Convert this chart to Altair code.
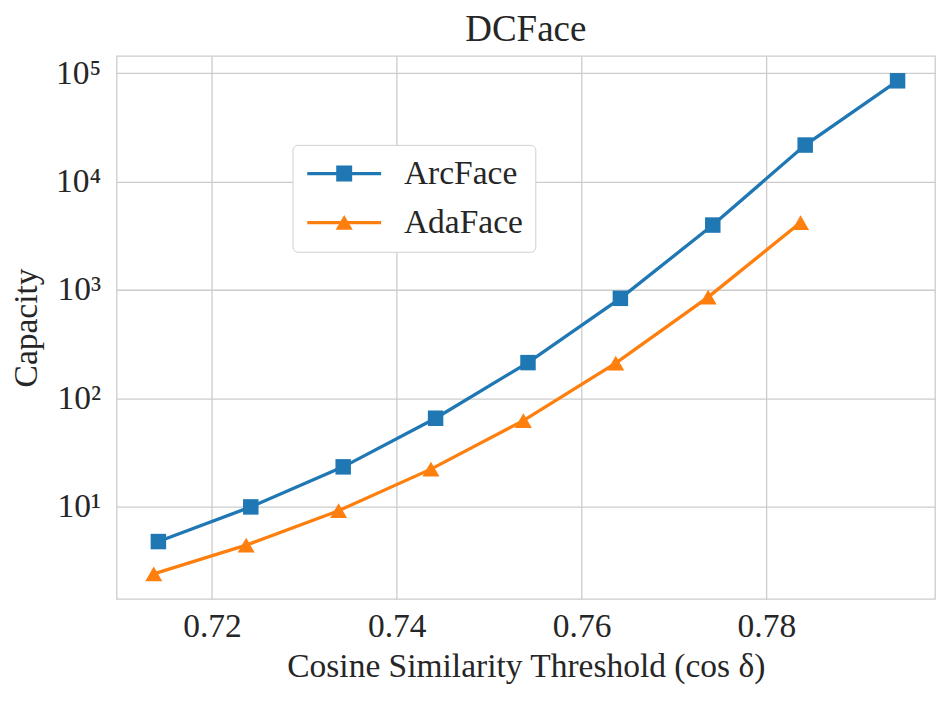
import altair as alt
import pandas as pd

arc_x = [0.7142, 0.7242, 0.7342, 0.7442, 0.7542, 0.7642, 0.7742, 0.7842, 0.7942]
arcface = [4.79, 10.0, 23.4, 65.7, 214.0, 838.0, 3970.0, 21700.0, 84900.0]
ada_x = [0.7137, 0.7237, 0.7337, 0.7437, 0.7537, 0.7637, 0.7737, 0.7837]
adaface = [2.41, 4.44, 9.23, 22.3, 62.5, 212.0, 860.0, 4190.0]
models = ["ArcFace", "AdaFace"]
colors = ["#1f77b4", "#ff7f0e"]
y_ticks = [10, 100, 1000, 10000, 100000]
x_ticks = [0.72, 0.74, 0.76, 0.78]

rows = []
for x, v in zip(arc_x, arcface):
    rows.append({"x": x, "y": v, "model": "ArcFace", "legend_model": "ArcFace"})
for x, v in zip(ada_x, adaface):
    rows.append({"x": x, "y": v, "model": "AdaFace", "legend_model": "AdaFace"})
df = pd.DataFrame(rows)

FONT = "Liberation Serif"
TXT = "#262626"

xs = alt.X("x:Q", scale=alt.Scale(domain=[0.70968, 0.79825], nice=False, zero=False),
           axis=alt.Axis(values=x_ticks, format=".2f", title="Cosine Similarity Threshold (cos δ)"))
ys = alt.Y("y:Q", scale=alt.Scale(type="log", domain=[1.415, 144000], nice=False),
           axis=alt.Axis(values=y_ticks, title="Capacity",
                         labelExpr="'10' + ['⁰','¹','²','³','⁴','⁵'][round(log(datum.value)/log(10))]"))
col = alt.Color("model:N", scale=alt.Scale(domain=models, range=colors), legend=None)

base = alt.Chart(df)
lines = base.mark_line(strokeWidth=3.3).encode(x=xs, y=ys, color=col, detail="model:N")
points = base.mark_point(filled=True, opacity=1).encode(
    x=xs, y=ys, color=col,
    shape=alt.Shape("model:N", scale=alt.Scale(domain=models, range=["square", "triangle-up"]), legend=None),
    size=alt.Size("model:N", scale=alt.Scale(domain=models, range=[240, 290]), legend=None),
)

# legend glyphs: line segment with marker (unit = 14 px)
sq_path = "M-2.64,-0.115H2.64V0.115H-2.64Z M-0.57,-0.57H0.57V0.57H-0.57Z"
tri_path = "M-2.64,-0.115H2.64V0.115H-2.64Z M-0.61,0.52L0,-0.54L0.61,0.52Z"

def leg():
    return alt.Legend(title=None, orient="none", legendX=176, legendY=89,
                      symbolOpacity=1, symbolSize=784, symbolStrokeWidth=0, symbolOffset=23,
                      labelFont=FONT, labelFontSize=33.5, labelColor=TXT,
                      labelOffset=43, rowPadding=14, padding=12,
                      strokeColor="#d0d0d0", fillColor="white", cornerRadius=5)

legend_layer = base.mark_point(filled=True, opacity=0).encode(
    x=xs, y=ys,
    color=alt.Color("legend_model:N", scale=alt.Scale(domain=models, range=colors), legend=leg()),
    shape=alt.Shape("legend_model:N", scale=alt.Scale(domain=models, range=[sq_path, tri_path]), legend=leg()),
)

chart = alt.layer(lines, points, legend_layer).resolve_scale(
    shape="independent", color="independent"
).properties(
    width=819, height=543.5,
    autosize=alt.AutoSizeParams(type="none"),
    padding={"left": 108.7, "top": 47.7, "right": 8, "bottom": 95},
    title=alt.TitleParams("DCFace", font=FONT, fontSize=37, fontWeight="normal", color=TXT, offset=7),
).configure_axis(
    labelFont=FONT, labelFontSize=33.5, labelColor=TXT,
    titleFont=FONT, titleFontSize=33.5, titleColor=TXT, titleFontWeight="normal",
    grid=True, gridColor="#cccccc", gridWidth=1.3, domain=False, ticks=False,
).configure_axisY(labelPadding=16, titlePadding=12).configure_axisX(labelPadding=12, titlePadding=7).configure_view(
    stroke="#cccccc", strokeWidth=1.3
)

chart.save("out.html", embed_options={"renderer": "svg", "actions": False})
